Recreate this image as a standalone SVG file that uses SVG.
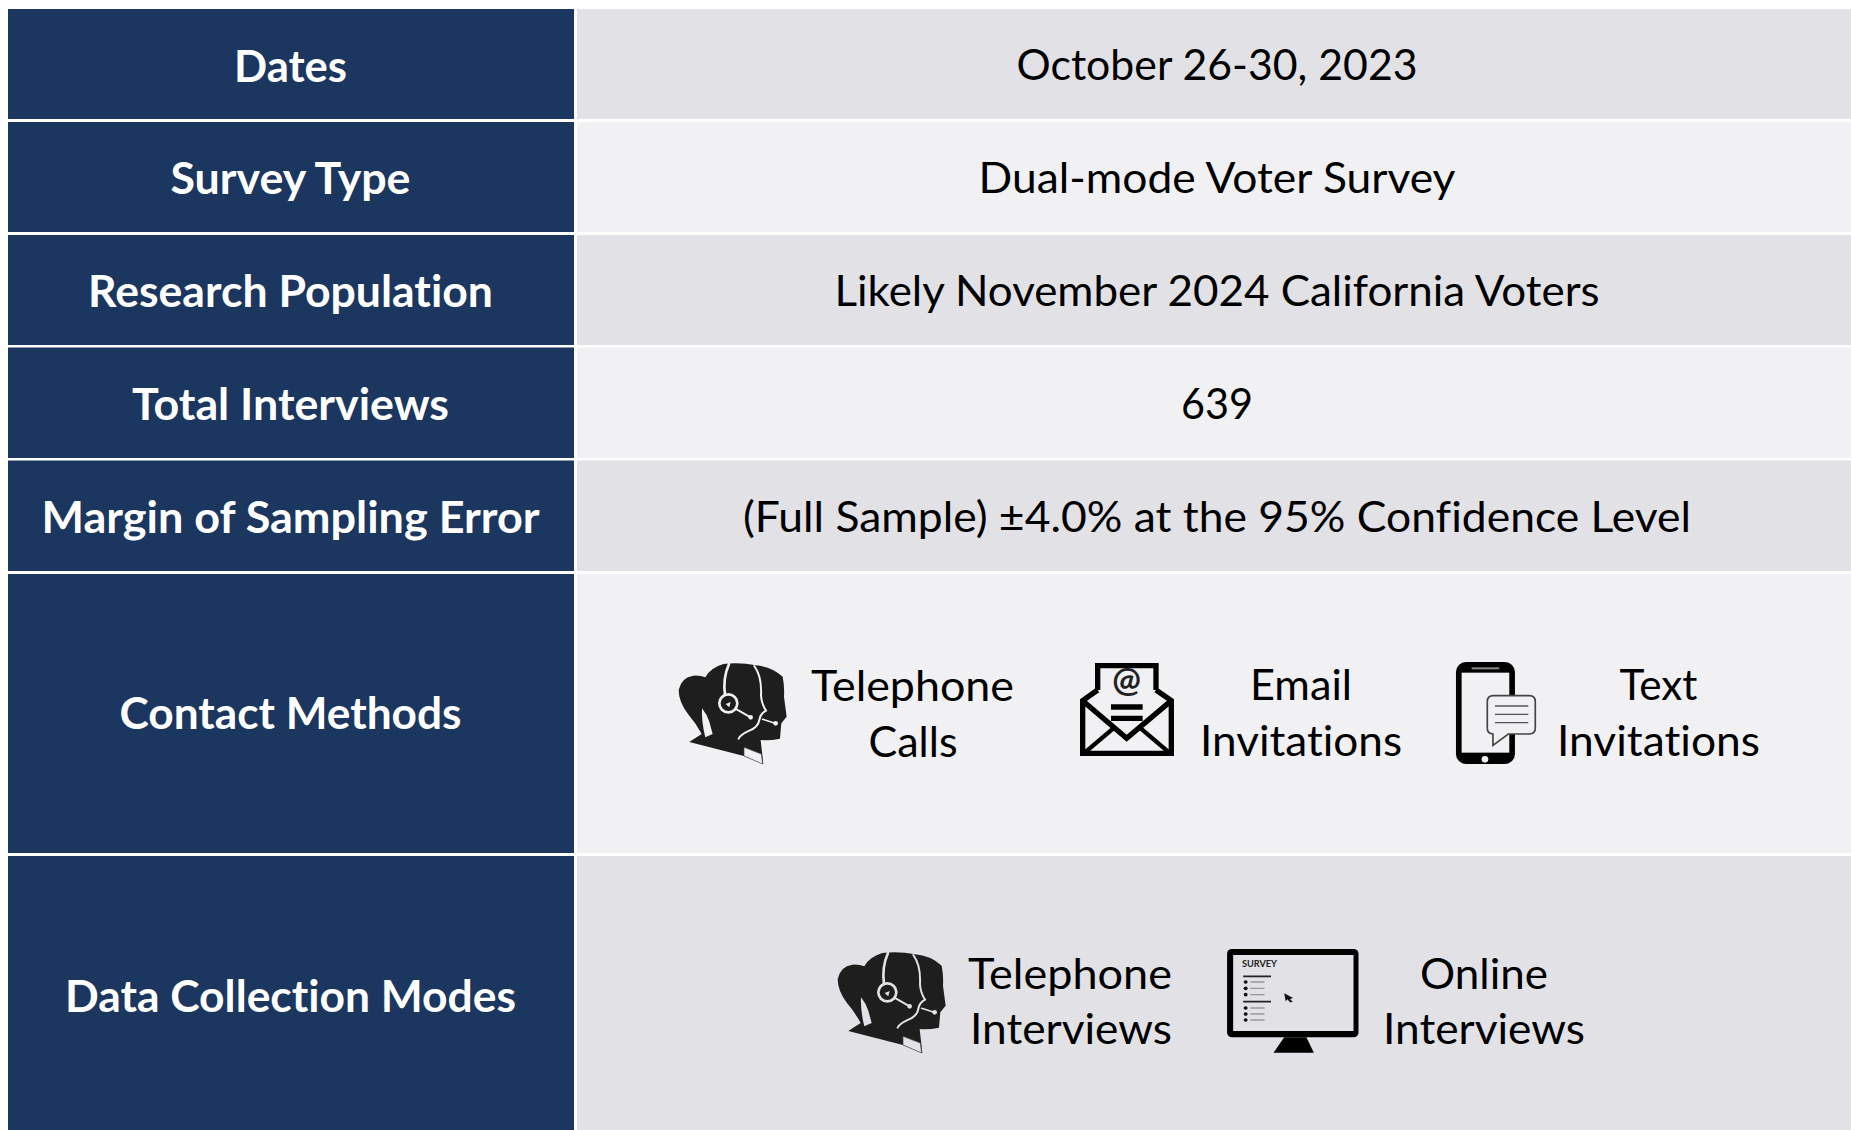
<svg xmlns="http://www.w3.org/2000/svg" xmlns:xlink="http://www.w3.org/1999/xlink" width="1851" height="1130" viewBox="0 0 1851 1130">
<style>
text{font-family:"Lato","Open Sans","Liberation Sans",sans-serif;text-anchor:middle;font-variant-ligatures:none}
.h{fill:#fff;font-weight:700;font-size:43px}
.v{fill:#000;font-size:43px}
.navy{fill:#1b365f}
.d{fill:#e1e1e6}
.l{fill:#f1f1f4}
</style>
<defs>
<symbol id="people" overflow="visible">
<path fill="#1e1e1e" d="M88,306 Q100,298 125,282 Q108,250 84,222 Q56,185 56,150 Q64,112 100,107 Q122,106 136,112 Q150,84 190,72 Q240,66 288,76 Q335,80 368,110 Q374,140 372,170 L380,230 L364,250 Q362,272 360,296 Q330,302 302,300 L310,372 L252,348 Z"/>
<g fill="none" stroke="currentColor" stroke-linecap="round">
<path stroke-width="8" d="M207,72 Q188,115 195,165"/>
<path stroke-width="6" d="M283,78 Q306,110 303,165 Q304,190 318,212 Q300,222 298,240 Q294,262 268,272 Q240,285 236,296"/>
<circle cx="205" cy="190" r="27" stroke-width="8"/>
<path stroke-width="6" d="M230,208 L268,230"/>
<path stroke-width="5" d="M308,238 L345,250"/>
</g>
<circle cx="272" cy="232" r="7" fill="currentColor"/>
<circle cx="347" cy="250" r="7" fill="currentColor"/>
<path fill="currentColor" d="M197,192 L212,186 L208,202 Z"/>
<path fill="currentColor" d="M126,205 Q142,225 148,245 L158,282 L136,292 Q124,245 126,205 Z"/>
<path fill="currentColor" stroke="#444" stroke-width="2" d="M252,348 L252,322 L304,342 L308,372 Z"/>
</symbol>
</defs>

<g id="row-dates">
<rect class="navy" x="8" y="9" width="566" height="110"/>
<rect class="d" x="577" y="9" width="1274" height="110"/>
<text class="h" x="290.5" y="81.500" textLength="113" lengthAdjust="spacingAndGlyphs">Dates</text>
<text class="v" x="1217" y="80" textLength="401" lengthAdjust="spacingAndGlyphs">October 26-30, 2023</text>
</g>
<g id="row-survey-type">
<rect class="navy" x="8" y="122" width="566" height="110"/>
<rect class="l" x="577" y="122" width="1274" height="110"/>
<text class="h" x="290.5" y="194" textLength="240" lengthAdjust="spacingAndGlyphs">Survey Type</text>
<text class="v" x="1217" y="193" textLength="477" lengthAdjust="spacingAndGlyphs">Dual-mode Voter Survey</text>
</g>
<g id="row-population">
<rect class="navy" x="8" y="235" width="566" height="110"/>
<rect class="d" x="577" y="235" width="1274" height="110"/>
<text class="h" x="290.5" y="307" textLength="405" lengthAdjust="spacingAndGlyphs">Research Population</text>
<text class="v" x="1217" y="306" textLength="765" lengthAdjust="spacingAndGlyphs">Likely November 2024 California Voters</text>
</g>
<g id="row-interviews">
<rect class="navy" x="8" y="347.500" width="566" height="110.500"/>
<rect class="l" x="577" y="347.500" width="1274" height="110.500"/>
<text class="h" x="290.5" y="419.500" textLength="317" lengthAdjust="spacingAndGlyphs">Total Interviews</text>
<text class="v" x="1217" y="419" textLength="72" lengthAdjust="spacingAndGlyphs">639</text>
</g>
<g id="row-margin">
<rect class="navy" x="8" y="460.500" width="566" height="110.500"/>
<rect class="d" x="577" y="460.500" width="1274" height="110.500"/>
<text class="h" x="290.5" y="532.500" textLength="498" lengthAdjust="spacingAndGlyphs">Margin of Sampling Error</text>
<text class="v" x="1217" y="532" textLength="948" lengthAdjust="spacingAndGlyphs">(Full Sample) ±4.0% at the 95% Confidence Level</text>
</g>
<g id="row-contact">
<rect class="navy" x="8" y="574" width="566" height="279"/>
<rect class="l" x="577" y="574" width="1274" height="279"/>
<text class="h" x="290.5" y="728.500" textLength="342" lengthAdjust="spacingAndGlyphs">Contact Methods</text>
</g>
<g id="row-modes">
<rect class="navy" x="8" y="856" width="566" height="274"/>
<rect class="d" x="577" y="856" width="1274" height="274"/>
<text class="h" x="290.5" y="1011.500" textLength="451" lengthAdjust="spacingAndGlyphs">Data Collection Modes</text>
</g>

<g id="contact-telephone">
<use xlink:href="#people" href="#people" transform="translate(660,640) scale(.3333)" color="#f1f1f4"/>
<text class="v" x="912.500" y="701" textLength="203" lengthAdjust="spacingAndGlyphs">Telephone</text>
<text class="v" x="913" y="757" textLength="89" lengthAdjust="spacingAndGlyphs">Calls</text>
</g>
<g id="contact-email">
<g transform="translate(1060,640) scale(.3333)" fill="none" stroke="#000" stroke-width="16">
<path d="M113,150 V77 H288 V150 M113,150 L68,182 V340 H334 V182 L288,150"/>
<path d="M68,182 L200,295 L334,182"/>
<path d="M75,337 L160,265 M327,337 L242,265" stroke-width="13"/>
<path d="M153,201 H248 M153,235 H248" stroke-width="16"/>
</g>
<text x="1126.500" y="692" fill="#222" font-size="34" font-weight="700">@</text>
<text class="v" x="1301" y="700" textLength="102" lengthAdjust="spacingAndGlyphs">Email</text>
<text class="v" x="1301" y="756" textLength="202" lengthAdjust="spacingAndGlyphs">Invitations</text>
</g>
<g id="contact-text">
<g transform="translate(1060,640) scale(.3333)">
<rect x="1188" y="66" width="177" height="306" rx="30" fill="#000"/>
<rect x="1205" y="98" width="143" height="240" fill="#f1f1f4"/>
<rect x="1235" y="82" width="83" height="6" fill="#888"/>
<circle cx="1275" cy="358" r="10" fill="#f1f1f4"/>
<path d="M1300,167 H1408 Q1426,167 1426,185 V265 Q1426,282 1408,282 H1345 L1299,316 V282 Q1282,282 1282,265 V185 Q1282,167 1300,167 Z" fill="#f1f1f4" stroke="#444" stroke-width="5"/>
<path d="M1305,198 H1405 M1305,223 H1405 M1305,248 H1405" stroke="#555" stroke-width="4"/>
</g>
<text class="v" x="1658.500" y="700" textLength="78" lengthAdjust="spacingAndGlyphs">Text</text>
<text class="v" x="1658.500" y="756" textLength="203" lengthAdjust="spacingAndGlyphs">Invitations</text>
</g>
<g id="mode-telephone">
<use xlink:href="#people" href="#people" transform="translate(819,929) scale(.3333)" color="#e1e1e6"/>
<text class="v" x="1070" y="989" textLength="204" lengthAdjust="spacingAndGlyphs">Telephone</text>
<text class="v" x="1071" y="1044" textLength="202" lengthAdjust="spacingAndGlyphs">Interviews</text>
</g>
<g id="mode-online">
<g transform="translate(820,930) scale(.3571,.3333)">
<rect x="1140" y="57" width="368" height="265" rx="14" fill="#000"/>
<rect x="1157" y="75" width="337" height="228" fill="#e1e1e6"/>
<path d="M1300,322 H1362 L1383,368 H1270 Z" fill="#000"/>
<path d="M1185,139 H1263 M1185,215 H1263" stroke="#222" stroke-width="5"/>
<path d="M1205,156 H1245 M1205,175 H1245 M1205,194 H1245 M1205,234 H1245 M1205,252 H1245 M1205,270 H1245" stroke="#999" stroke-width="4"/>
<g fill="#111"><circle cx="1192" cy="156" r="5.500"/><circle cx="1192" cy="175" r="5.500"/><circle cx="1192" cy="194" r="5.500"/><circle cx="1192" cy="234" r="5.500"/><circle cx="1192" cy="252" r="5.500"/><circle cx="1192" cy="270" r="5.500"/></g>
<path d="M1300,190 L1325,204 L1316,207 L1324,216 L1316,217 L1309,208 L1304,214 Z" fill="#111"/>
</g>
<text x="1242" y="967" fill="#222" font-size="8.500" font-weight="700" textLength="35" lengthAdjust="spacingAndGlyphs" style="text-anchor:start">SURVEY</text>
<text class="v" x="1484" y="989" textLength="128" lengthAdjust="spacingAndGlyphs">Online</text>
<text class="v" x="1484" y="1044" textLength="202" lengthAdjust="spacingAndGlyphs">Interviews</text>
</g>
</svg>
